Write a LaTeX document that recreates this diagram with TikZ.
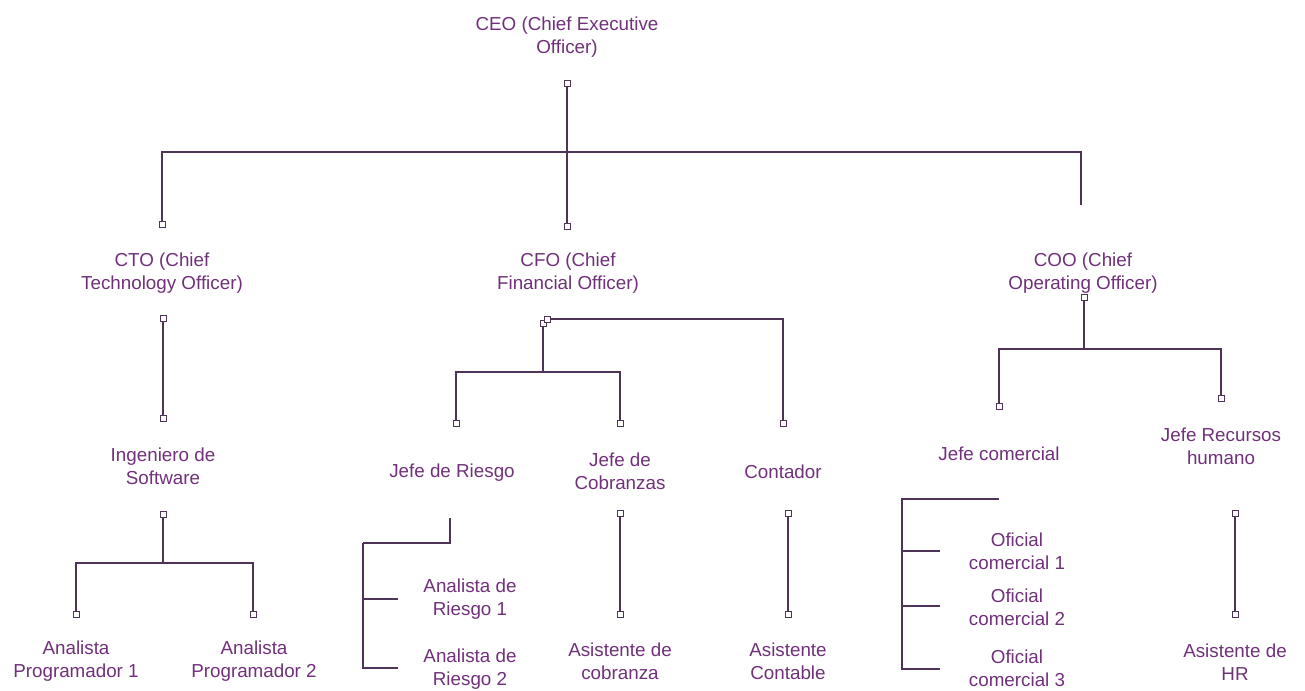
\documentclass[tikz,border=0pt]{standalone}
\usepackage{fontspec}
\setmainfont{Liberation Sans}
\usepackage{tikz}
\definecolor{txtpurple}{RGB}{112,48,122}
\definecolor{linepurple}{RGB}{78,52,86}
\tikzset{
    x=0.02cm, y=-0.02cm, % one unit is one pixel of the original chart
    }

\begin{document}
\begin{tikzpicture}[
rolenode/.style={align=center, text=txtpurple, inner sep=0pt, font=\fontsize{10.7}{13.3}\selectfont},
sqnode/.style={rectangle, draw=linepurple, fill=white, line width=0.5pt, inner sep=0pt, minimum size=0.12cm},
link/.style={draw=linepurple, line width=0.85pt},
]
\useasboundingbox (0,0) rectangle (1305,690);

% roles
\node[rolenode] (ceo) at (567,37) {CEO (Chief Executive\\Officer)};
\node[rolenode] (cto) at (162,273) {CTO (Chief\\Technology Officer)};
\node[rolenode] (cfo) at (568,273) {CFO (Chief\\Financial Officer)};
\node[rolenode] (coo) at (1083,273) {COO (Chief\\Operating Officer)};
\node[rolenode] (ingsoft) at (163,466) {Ingeniero de\\Software};
\node[rolenode] (anprog1) at (76,661) {Analista\\Programador 1};
\node[rolenode] (anprog2) at (254,661) {Analista\\Programador 2};
\node[rolenode] (jriesgo) at (452,473) {Jefe de Riesgo};
\node[rolenode] (jcobr) at (620,471) {Jefe de\\Cobranzas};
\node[rolenode] (contador) at (783,472) {Contador};
\node[rolenode] (anries1) at (470,599) {Analista de\\Riesgo 1};
\node[rolenode] (anries2) at (470,669) {Analista de\\Riesgo 2};
\node[rolenode] (asiscobr) at (620,661) {Asistente de\\cobranza};
\node[rolenode] (asiscont) at (788,661) {Asistente\\Contable};
\node[rolenode] (jcom) at (999,454) {Jefe comercial};
\node[rolenode] (jrrhh) at (1221,446) {Jefe Recursos\\humano};
\node[rolenode] (ofcom1) at (1017,551) {Oficial\\comercial 1};
\node[rolenode] (ofcom2) at (1017,607) {Oficial\\comercial 2};
\node[rolenode] (ofcom3) at (1017,668) {Oficial\\comercial 3};
\node[rolenode] (asishr) at (1235,662) {Asistente de\\HR};

% little squares
\node[sqnode] (ceo-b) at (567,83) {};
\node[sqnode] (cfo-t) at (567,226) {};
\node[sqnode] (cto-t) at (162,224) {};
\node[sqnode] (cto-b) at (163,318) {};
\node[sqnode] (ing-t) at (163,418) {};
\node[sqnode] (ing-b) at (163,514) {};
\node[sqnode] (ap1-t) at (76,614) {};
\node[sqnode] (ap2-t) at (253,614) {};
\node[sqnode] (cfo-b2) at (543,323) {};
\node[sqnode] (cfo-b) at (547,319) {};
\node[sqnode] (jr-t) at (456,423) {};
\node[sqnode] (jc-t) at (620,423) {};
\node[sqnode] (co-t) at (783,423) {};
\node[sqnode] (jc-b) at (620,513) {};
\node[sqnode] (ac-t) at (620,614) {};
\node[sqnode] (co-b) at (788,513) {};
\node[sqnode] (acon-t) at (788,614) {};
\node[sqnode] (coo-b) at (1084,297) {};
\node[sqnode] (jcom-t) at (999,406) {};
\node[sqnode] (jrh-t) at (1221,398) {};
\node[sqnode] (jrh-b) at (1235,513) {};
\node[sqnode] (ahr-t) at (1235,614) {};

% junctions and free ends
\coordinate (ceo-j) at (567,152);
\coordinate (coo-end) at (1081,205);
\coordinate (ing-j) at (163,563);
\coordinate (cfo-j) at (543,372);
\coordinate (jr-b) at (450,518);
\coordinate (jr-c) at (363,543);
\coordinate (jr-1) at (398,599);
\coordinate (jr-2) at (398,668);
\coordinate (coo-j) at (1084,349);
\coordinate (jcom-b) at (999,499);
\coordinate (jcom-c) at (902,499);
\coordinate (of-1) at (940,551);
\coordinate (of-2) at (940,606);
\coordinate (of-3) at (940,669);

\draw[link] (ceo-b) -- (cfo-t);
\draw[link] (cto-t) |- (ceo-j) -| (coo-end);
\draw[link] (cto-b) -- (ing-t);
\draw[link] (ing-b) -- (ing-j);
\draw[link] (ap1-t) |- (ing-j) -| (ap2-t);
\draw[link] (cfo-b) -| (co-t);
\draw[link] (cfo-b2) -- (cfo-j);
\draw[link] (jr-t) |- (cfo-j) -| (jc-t);
\draw[link, line width=1.3pt] (jr-b) |- (jr-c);
\draw[link] (jr-c) |- (jr-2);
\draw[link] (jr-1) -- (jr-1 -| jr-c);
\draw[link] (jc-b) -- (ac-t);
\draw[link] (co-b) -- (acon-t);
\draw[link] (coo-b) -- (coo-j);
\draw[link] (jcom-t) |- (coo-j) -| (jrh-t);
\draw[link] (jcom-b) -- (jcom-c) |- (of-3);
\draw[link] (of-1) -- (of-1 -| jcom-c);
\draw[link] (of-2) -- (of-2 -| jcom-c);
\draw[link] (jrh-b) -- (ahr-t);
\end{tikzpicture}
\end{document}
